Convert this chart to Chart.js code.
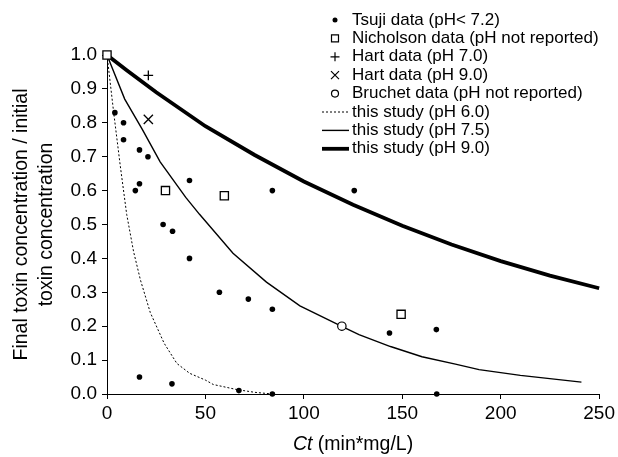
<!DOCTYPE html>
<html>
<head>
<meta charset="utf-8">
<script src="https://cdn.jsdelivr.net/npm/chart.js@4.4.0/dist/chart.umd.min.js"></script>
<style>
  html, body { margin: 0; padding: 0; background: #fff; }
</style>
</head>
<body>
<canvas id="ct_chart" width="618" height="457"></canvas>
<script>
// ---- data ----
const tsuji_x = [4, 8.4, 8.4, 16.5, 20.8, 14.4, 16.5, 41.9, 84, 125.6, 28.5, 33.3, 41.9, 57.1, 71.8, 84, 143.5, 167.3, 16.5, 33, 67, 84, 167.5];
const tsuji_y = [0.83, 0.80, 0.75, 0.72, 0.70, 0.60, 0.62, 0.63, 0.60, 0.60, 0.50, 0.48, 0.40, 0.30, 0.28, 0.25, 0.18, 0.19, 0.05, 0.03, 0.01, 0.0, 0.0];

const nicholson_x = [0, 29.7, 59.6, 149.4];
const nicholson_y = [1.0, 0.60, 0.585, 0.235];

const hart70_x = [21];
const hart70_y = [0.94];
const hart90_x = [21];
const hart90_y = [0.81];

const bruchet_x = [119.3];
const bruchet_y = [0.20];

const ph60_x = [0, 3.4, 6.7, 10, 13.5, 17, 22, 29, 35.5, 42, 50, 54, 66, 75, 84];
const ph60_y = [1.0, 0.83, 0.675, 0.53, 0.42, 0.336, 0.24, 0.15, 0.09, 0.061, 0.041, 0.028, 0.013, 0.005, 0.0];

const ph75_x = [0, 9, 18, 27, 40, 47, 64, 81, 98, 119, 128, 144, 160, 177, 189, 210, 241];
const ph75_y = [1.0, 0.87, 0.78, 0.685, 0.58, 0.53, 0.415, 0.33, 0.26, 0.20, 0.175, 0.14, 0.11, 0.088, 0.072, 0.055, 0.035];

const ph90_x = [0, 10, 25, 50, 75, 100, 125, 150, 175, 200, 225, 250];
const ph90_y = [1.0, 0.955, 0.89, 0.79, 0.705, 0.627, 0.558, 0.496, 0.441, 0.392, 0.349, 0.312];

const x_ticks = [0, 50, 100, 150, 200, 250];
const y_ticks = [0, 0.1, 0.2, 0.3, 0.4, 0.5, 0.6, 0.7, 0.8, 0.9, 1.0];

const y_title = ['Final toxin concentration / initial', 'toxin concentration'];
const x_title_italic = 'Ct';
const x_title_rest = ' (min*mg/L)';

const FONT = '"Liberation Sans", Arial, sans-serif';

function pts(xs, ys) {
  return xs.map((x, i) => ({ x: x, y: ys[i] }));
}

// legend + axis titles drawn on top of the chart
const annotate = {
  id: 'annotate',
  afterDraw(chart) {
    const ctx = chart.ctx;
    const area = chart.chartArea;
    ctx.save();
    ctx.fillStyle = '#000';
    ctx.strokeStyle = '#000';

    // y title, two lines
    ctx.save();
    ctx.font = '19.5px ' + FONT;
    ctx.translate(22, (area.top + area.bottom) / 2);
    ctx.rotate(-Math.PI / 2);
    ctx.textAlign = 'center';
    ctx.textBaseline = 'middle';
    ctx.fillText(y_title[0], 0, 0);
    ctx.fillText(y_title[1], 0, 25);
    ctx.restore();

    // x title, "Ct" in italic
    ctx.textBaseline = 'middle';
    ctx.textAlign = 'left';
    ctx.font = 'italic 19.5px ' + FONT;
    const w1 = ctx.measureText(x_title_italic).width;
    ctx.font = '19.5px ' + FONT;
    const w2 = ctx.measureText(x_title_rest).width;
    const tx = (area.left + area.right) / 2 - (w1 + w2) / 2;
    const ty = 445;
    ctx.font = 'italic 19.5px ' + FONT;
    ctx.fillText(x_title_italic, tx, ty);
    ctx.font = '19.5px ' + FONT;
    ctx.fillText(x_title_rest, tx + w1, ty);

    // legend
    const lx = 335, textX = 352;
    chart.data.datasets.forEach((ds, i) => {
      const y = 20 + i * 18.4;
      ctx.save();
      ctx.strokeStyle = '#000';
      ctx.fillStyle = '#000';
      if (ds.showLine) {
        ctx.lineWidth = ds.borderWidth;
        ctx.setLineDash(ds.borderDash || []);
        ctx.beginPath();
        ctx.moveTo(322, y);
        ctx.lineTo(349, y);
        ctx.stroke();
      } else {
        ctx.lineWidth = 1.2;
        ctx.beginPath();
        if (ds.pointStyle === 'rect') {
          ctx.fillStyle = '#fff';
          ctx.rect(lx - 3.5, y - 3.5, 7, 7);
          ctx.fill(); ctx.stroke();
        } else if (ds.pointStyle === 'cross') {
          ctx.moveTo(lx - 4.5, y); ctx.lineTo(lx + 4.5, y);
          ctx.moveTo(lx, y - 4.5); ctx.lineTo(lx, y + 4.5);
          ctx.stroke();
        } else if (ds.pointStyle === 'crossRot') {
          ctx.moveTo(lx - 4, y - 4); ctx.lineTo(lx + 4, y + 4);
          ctx.moveTo(lx - 4, y + 4); ctx.lineTo(lx + 4, y - 4);
          ctx.stroke();
        } else if (ds.backgroundColor === '#000') {
          ctx.arc(lx, y, 2.5, 0, Math.PI * 2);
          ctx.fill();
        } else {
          ctx.fillStyle = '#fff';
          ctx.arc(lx, y, 3.5, 0, Math.PI * 2);
          ctx.fill(); ctx.stroke();
        }
      }
      ctx.restore();
      ctx.fillStyle = '#000';
      ctx.font = '17px ' + FONT;
      ctx.textAlign = 'left';
      ctx.textBaseline = 'middle';
      ctx.fillText(ds.label, textX, y);
    });
    ctx.restore();
  }
};

const ct_chart = document.getElementById('ct_chart');

Chart.defaults.color = '#000';
Chart.defaults.font.family = FONT;
Chart.defaults.font.size = 19;

new Chart(ct_chart, {
  type: 'scatter',
  data: {
    datasets: [
      {
        label: 'Tsuji data (pH< 7.2)',
        data: pts(tsuji_x, tsuji_y),
        pointStyle: 'circle', pointRadius: 2.8,
        backgroundColor: '#000', borderColor: '#000', borderWidth: 0,
        clip: false
      },
      {
        label: 'Nicholson data (pH not reported)',
        data: pts(nicholson_x, nicholson_y),
        pointStyle: 'rect', pointRadius: 5.8,
        backgroundColor: '#fff', borderColor: '#000', borderWidth: 1.3,
        clip: false
      },
      {
        label: 'Hart data (pH 7.0)',
        data: pts(hart70_x, hart70_y),
        pointStyle: 'cross', pointRadius: 4.8,
        backgroundColor: '#000', borderColor: '#000', borderWidth: 1.3,
        clip: false
      },
      {
        label: 'Hart data (pH 9.0)',
        data: pts(hart90_x, hart90_y),
        pointStyle: 'crossRot', pointRadius: 6.5,
        backgroundColor: '#000', borderColor: '#000', borderWidth: 1.3,
        clip: false
      },
      {
        label: 'Bruchet data (pH not reported)',
        data: pts(bruchet_x, bruchet_y),
        pointStyle: 'circle', pointRadius: 4.2,
        backgroundColor: '#fff', borderColor: '#000', borderWidth: 1.2,
        clip: false
      },
      {
        label: 'this study (pH 6.0)',
        data: pts(ph60_x, ph60_y),
        showLine: true, pointRadius: 0,
        borderColor: '#000', borderWidth: 1, borderDash: [2, 2],
        clip: false
      },
      {
        label: 'this study (pH 7.5)',
        data: pts(ph75_x, ph75_y),
        showLine: true, pointRadius: 0,
        borderColor: '#000', borderWidth: 1.4,
        clip: false
      },
      {
        label: 'this study (pH 9.0)',
        data: pts(ph90_x, ph90_y),
        showLine: true, pointRadius: 0,
        borderColor: '#000', borderWidth: 3.8,
        clip: false
      }
    ]
  },
  options: {
    responsive: false,
    animation: false,
    layout: { padding: { top: 55, right: 18, left: 0, bottom: 0 } },
    plugins: {
      legend: { display: false },
      tooltip: { enabled: false }
    },
    scales: {
      x: {
        type: 'linear',
        min: 0, max: 250,
        afterBuildTicks: (scale) => { scale.ticks = x_ticks.map(v => ({ value: v })); },
        afterFit: (scale) => { scale.height = 63; },
        ticks: { padding: 3, font: { size: 19 } },
        grid: { drawOnChartArea: false, drawTicks: true, tickLength: 5, color: '#000' },
        border: { display: true, color: '#000', width: 1 }
      },
      y: {
        type: 'linear',
        min: 0, max: 1,
        afterBuildTicks: (scale) => { scale.ticks = y_ticks.map(v => ({ value: v })); },
        afterFit: (scale) => { scale.width = 107; },
        ticks: { padding: 5, font: { size: 19 }, callback: (v) => v.toFixed(1) },
        grid: { drawOnChartArea: false, drawTicks: true, tickLength: 5, color: '#000' },
        border: { display: true, color: '#000', width: 1 }
      }
    }
  },
  plugins: [annotate]
});
</script>
</body>
</html>
